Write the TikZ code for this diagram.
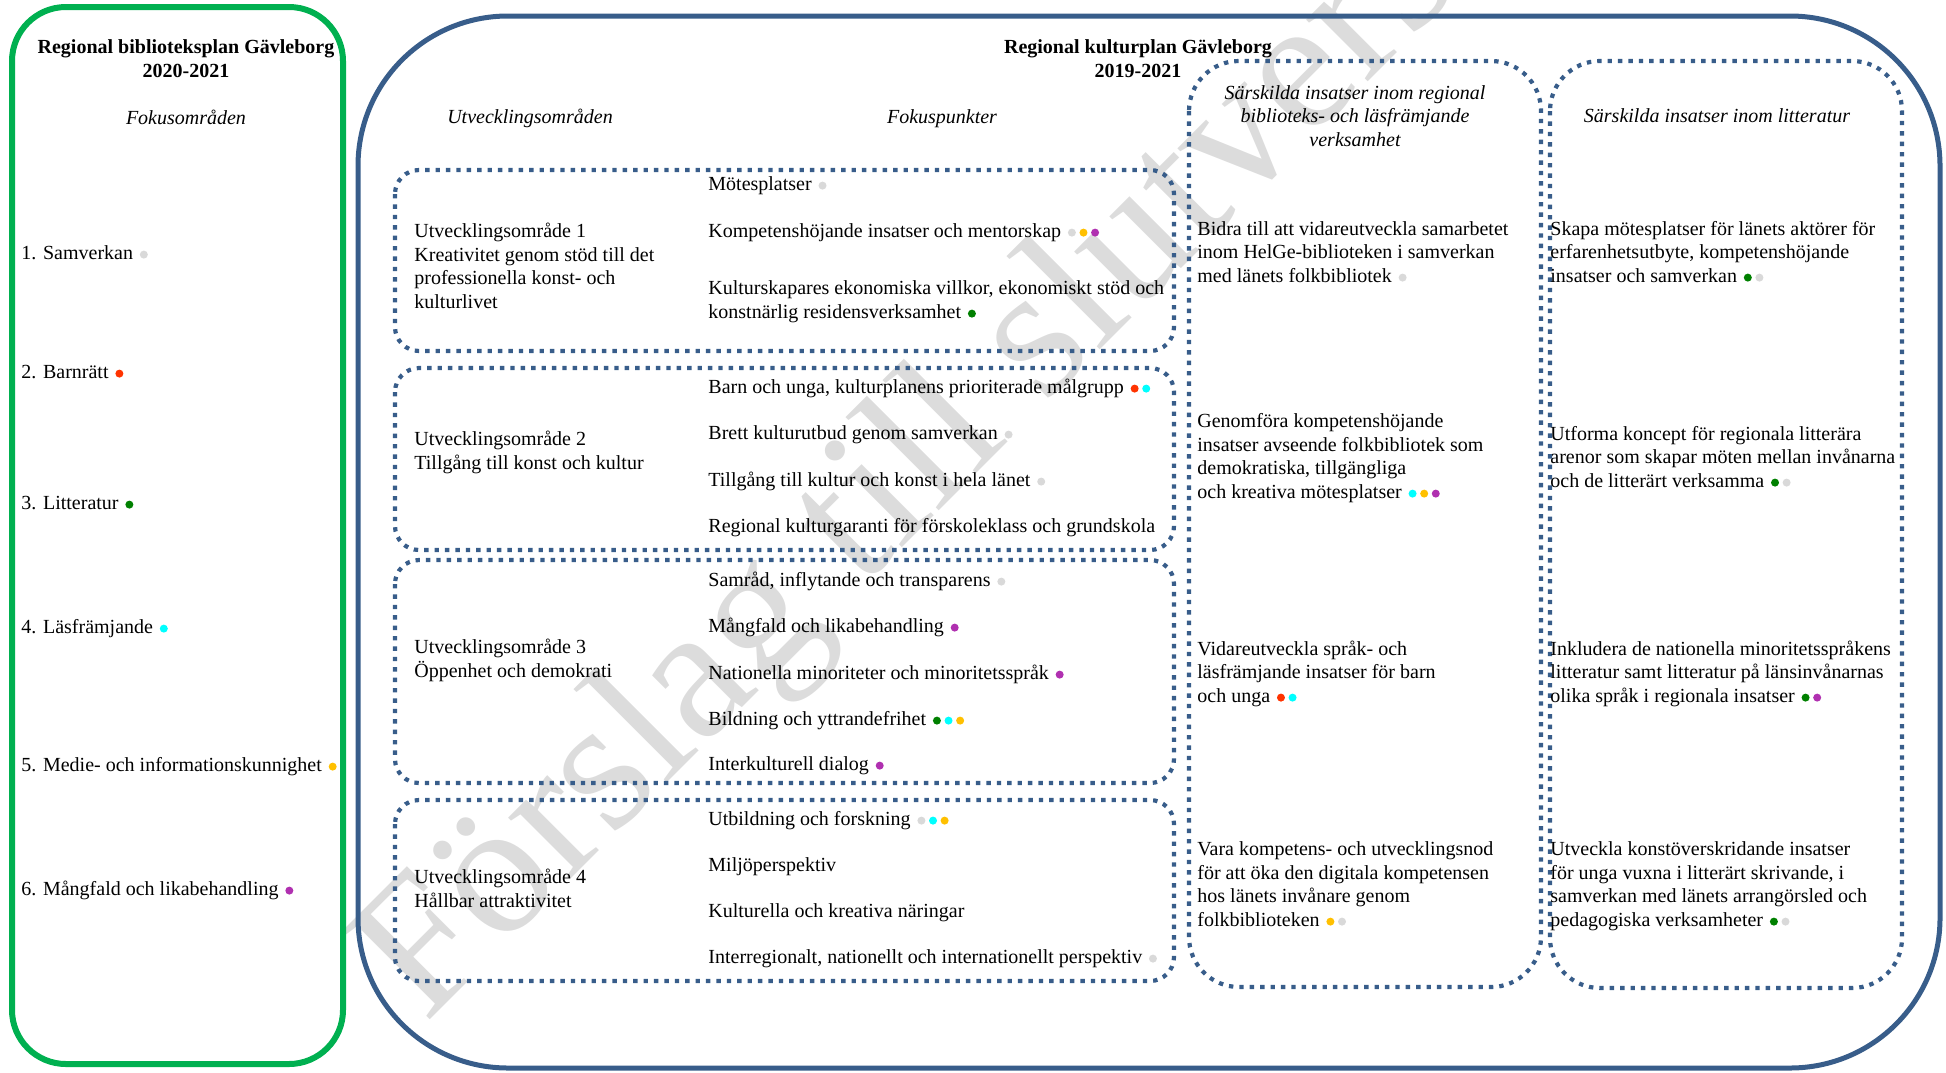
\documentclass[tikz,border=0pt]{standalone}
\usepackage{fontspec}
\setmainfont{Liberation Serif}
\usetikzlibrary{positioning}

\definecolor{kgreen}{HTML}{00B050}
\definecolor{kblue}{HTML}{385D8A}
\definecolor{wmgrey}{HTML}{DCDCDC}
\definecolor{cgrey}{HTML}{D9D9D9}
\definecolor{cred}{HTML}{FF3300}
\definecolor{cgreen}{HTML}{008000}
\definecolor{ccyan}{HTML}{00FFFF}
\definecolor{cgold}{HTML}{FFC000}
\definecolor{cpurple}{HTML}{B030B0}

\newcommand{\bodysize}{\fontsize{10}{11.7}\selectfont}
\newcommand{\kdot}[1]{\hspace{0.9pt}\tikz[baseline=-2.2pt]\fill[#1] (0,0) circle (2pt);\hspace{0.9pt}}

\begin{document}
\begin{tikzpicture}[x=0.5pt, y=-0.5pt,
	txt/.style={anchor=base west, inner sep=0pt, align=left, font=\bodysize},
	head/.style={anchor=base, inner sep=0pt, align=center, font=\bodysize\bfseries},
	sub/.style={anchor=base, inner sep=0pt, align=center, font=\bodysize\itshape},
	dotbox/.style={draw=kblue, line width=2.1pt, dash pattern=on 2.2pt off 3pt, rounded corners=12pt}]
			\useasboundingbox (0, 0) rectangle (1946, 1072);
			% watermark
			\node[anchor=base west, inner sep=0pt, rotate=45, text=wmgrey, font=\fontsize{95}{95}\selectfont] (wm) at (425, 1025) {Förslag till slutversion};
			% frames
			\draw[kgreen, line width=3pt, rounded corners=27pt] (12, 7) rectangle (343, 1064);
			\draw[kblue, line width=2.5pt, rounded corners=75pt] (358, 16) rectangle (1940, 1068);
			\draw[dotbox] (395, 170) rectangle (1174, 351);
			\draw[dotbox] (395, 368) rectangle (1174, 550);
			\draw[dotbox] (395, 560) rectangle (1174, 783);
			\draw[dotbox] (395, 800) rectangle (1174, 981);
			\draw[dotbox, rounded corners=25pt] (1189, 61) rectangle (1541, 987);
			\draw[dotbox, rounded corners=25pt] (1550, 61) rectangle (1902, 988);
			% biblioteksplan (multi-line nodes sit on their last line)
			\node[head] (lt) at (186, 77) {Regional biblioteksplan Gävleborg\\2020-2021};
			\node[sub] (lf) at (186, 124) {Fokusområden};
			\node[txt] (l1) at (21, 259) {1. Samverkan \kdot{cgrey}};
			\node[txt] (l2) at (21, 378) {2. Barnrätt \kdot{cred}};
			\node[txt] (l3) at (21, 509) {3. Litteratur \kdot{cgreen}};
			\node[txt] (l4) at (21, 633) {4. Läsfrämjande \kdot{ccyan}};
			\node[txt] (l5) at (21, 771) {5. Medie- och informationskunnighet \kdot{cgold}};
			\node[txt] (l6) at (21, 895) {6. Mångfald och likabehandling \kdot{cpurple}};
			% kulturplan
			\node[head] (mt) at (1138, 77) {Regional kulturplan Gävleborg\\2019-2021};
			\node[sub] (mu) at (530, 123) {Utvecklingsområden};
			\node[sub] (mf) at (942, 123) {Fokuspunkter};
			\node[sub] (ms) at (1355, 146) {Särskilda insatser inom regional\\biblioteks- och läsfrämjande\\verksamhet};
			\node[sub] (ml) at (1717, 122) {Särskilda insatser inom litteratur};
			\node[txt] (u1) at (414, 308) {Utvecklingsområde 1\\Kreativitet genom stöd till det\\professionella konst- och\\kulturlivet};
			\node[txt] (u2) at (414, 469) {Utvecklingsområde 2\\Tillgång till konst och kultur};
			\node[txt] (u3) at (414, 677) {Utvecklingsområde 3\\Öppenhet och demokrati};
			\node[txt] (u4) at (414, 907) {Utvecklingsområde 4\\Hållbar attraktivitet};
			\node[txt] (f1) at (708, 190) {Mötesplatser \kdot{cgrey}};
			\node[txt] (f2) at (708, 237) {Kompetenshöjande insatser och mentorskap \kdot{cgrey}\kdot{cgold}\kdot{cpurple}};
			\node[txt] (f3) at (708, 318) {Kulturskapares ekonomiska villkor, ekonomiskt stöd och\\konstnärlig residensverksamhet \kdot{cgreen}};
			\node[txt] (f4) at (708, 393) {Barn och unga, kulturplanens prioriterade målgrupp \kdot{cred}\kdot{ccyan}};
			\node[txt] (f5) at (708, 439) {Brett kulturutbud genom samverkan \kdot{cgrey}};
			\node[txt] (f6) at (708, 486) {Tillgång till kultur och konst i hela länet \kdot{cgrey}};
			\node[txt] (f7) at (708, 532) {Regional kulturgaranti för förskoleklass och grundskola};
			\node[txt] (f8) at (708, 586) {Samråd, inflytande och transparens \kdot{cgrey}};
			\node[txt] (f9) at (708, 632) {Mångfald och likabehandling \kdot{cpurple}};
			\node[txt] (f10) at (708, 679) {Nationella minoriteter och minoritetsspråk \kdot{cpurple}};
			\node[txt] (f11) at (708, 725) {Bildning och yttrandefrihet \kdot{cgreen}\kdot{ccyan}\kdot{cgold}};
			\node[txt] (f12) at (708, 770) {Interkulturell dialog \kdot{cpurple}};
			\node[txt] (f13) at (708, 825) {Utbildning och forskning \kdot{cgrey}\kdot{ccyan}\kdot{cgold}};
			\node[txt] (f14) at (708, 871) {Miljöperspektiv};
			\node[txt] (f15) at (708, 917) {Kulturella och kreativa näringar};
			\node[txt] (f16) at (708, 963) {Interregionalt, nationellt och internationellt perspektiv \kdot{cgrey}};
			\node[txt] (b1) at (1197, 282) {Bidra till att vidareutveckla samarbetet\\inom HelGe-biblioteken i samverkan\\med länets folkbibliotek \kdot{cgrey}};
			\node[txt] (b2) at (1197, 498) {Genomföra kompetenshöjande\\insatser avseende folkbibliotek som\\demokratiska, tillgängliga\\och kreativa mötesplatser \kdot{ccyan}\kdot{cgold}\kdot{cpurple}};
			\node[txt] (b3) at (1197, 702) {Vidareutveckla språk- och\\läsfrämjande insatser för barn\\och unga \kdot{cred}\kdot{ccyan}};
			\node[txt] (b4) at (1197, 926) {Vara kompetens- och utvecklingsnod\\för att öka den digitala kompetensen\\hos länets invånare genom\\folkbiblioteken \kdot{cgold}\kdot{cgrey}};
			\node[txt] (s1) at (1550, 282) {Skapa mötesplatser för länets aktörer för\\erfarenhetsutbyte, kompetenshöjande\\insatser och samverkan \kdot{cgreen}\kdot{cgrey}};
			\node[txt] (s2) at (1550, 487) {Utforma koncept för regionala litterära\\arenor som skapar möten mellan invånarna\\och de litterärt verksamma \kdot{cgreen}\kdot{cgrey}};
			\node[txt] (s3) at (1550, 702) {Inkludera de nationella minoritetsspråkens\\litteratur samt litteratur på länsinvånarnas\\olika språk i regionala insatser \kdot{cgreen}\kdot{cpurple}};
			\node[txt] (s4) at (1550, 926) {Utveckla konstöverskridande insatser\\för unga vuxna i litterärt skrivande, i\\samverkan med länets arrangörsled och\\pedagogiska verksamheter \kdot{cgreen}\kdot{cgrey}};
		\end{tikzpicture}
\end{document}
